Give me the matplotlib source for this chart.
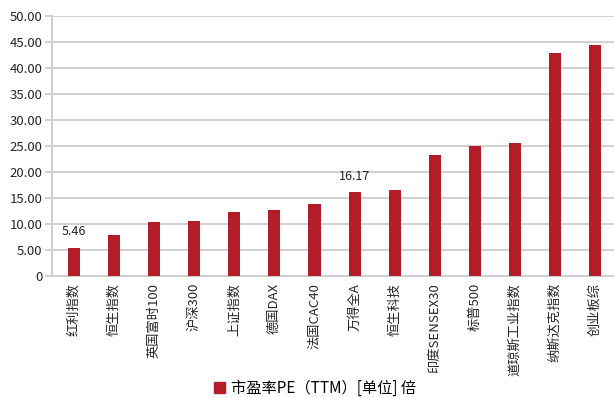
import matplotlib

matplotlib.use("Agg")
import matplotlib.pyplot as plt
from matplotlib.patches import Patch

plt.rcParams["font.family"] = ["Noto Sans CJK SC", "DejaVu Sans"]

categories = [
    "红利指数", "恒生指数", "英国富时100", "沪深300", "上证指数", "德国DAX",
    "法国CAC40", "万得全A", "恒生科技", "印度SENSEX30", "标普500",
    "道琼斯工业指数", "纳斯达克指数", "创业板综",
]
pe_ttm = [5.46, 7.85, 10.35, 10.55, 12.25, 12.65, 13.8, 16.17, 16.5, 23.2, 24.95, 25.55, 42.85, 44.45]
labelled = {0: "5.46", 7: "16.17"}
yticks = [0, 5, 10, 15, 20, 25, 30, 35, 40, 45, 50]
ytick_labels = ["0"] + [f"{v:.2f}" for v in yticks[1:]]

BAR = "#B31D27"
GRID = "#C8C8C8"

fig = plt.figure(figsize=(6.14, 3.98), dpi=100)
ax = fig.add_axes([52 / 614, 1 - 276 / 398, 1 - 52 / 614 + 0.005, 260 / 398])

x = range(len(categories))
ax.bar(x, pe_ttm, width=0.3, color=BAR, zorder=3)
for i, text in labelled.items():
    ax.text(i, pe_ttm[i] + 1.8, text, ha="center", va="bottom", fontsize=9, color="#262626")

ax.set_xlim(-0.55, len(categories) - 0.45)
ax.set_ylim(0, 50)
ax.set_yticks(yticks)
ax.set_yticklabels(ytick_labels, fontsize=9.5, color="#262626")
ax.set_xticks(list(x))
ax.set_xticklabels(categories, rotation=90, fontsize=9.5, color="#262626")
ax.tick_params(axis="y", length=5, width=1.2, color=GRID, pad=2)
ax.tick_params(axis="x", length=0, pad=5)
ax.grid(axis="y", color=GRID, linewidth=1.2, zorder=0)
for side in ("top", "right"):
    ax.spines[side].set_visible(False)
ax.spines["left"].set_color("#D0D0D0")
ax.spines["left"].set_linewidth(1.5)
ax.spines["bottom"].set_color("#D0D0D0")
ax.spines["bottom"].set_linewidth(1.5)

fig.legend(
    handles=[Patch(color=BAR)],
    labels=["市盈率PE（TTM）[单位] 倍"],
    loc="center",
    bbox_to_anchor=(0.513, 1 - 388 / 398),
    frameon=False,
    fontsize=11,
    handlelength=0.7,
    handleheight=0.7,
    handletextpad=0.4,
)

fig.savefig("out.png", dpi=100)
plt.close(fig)
